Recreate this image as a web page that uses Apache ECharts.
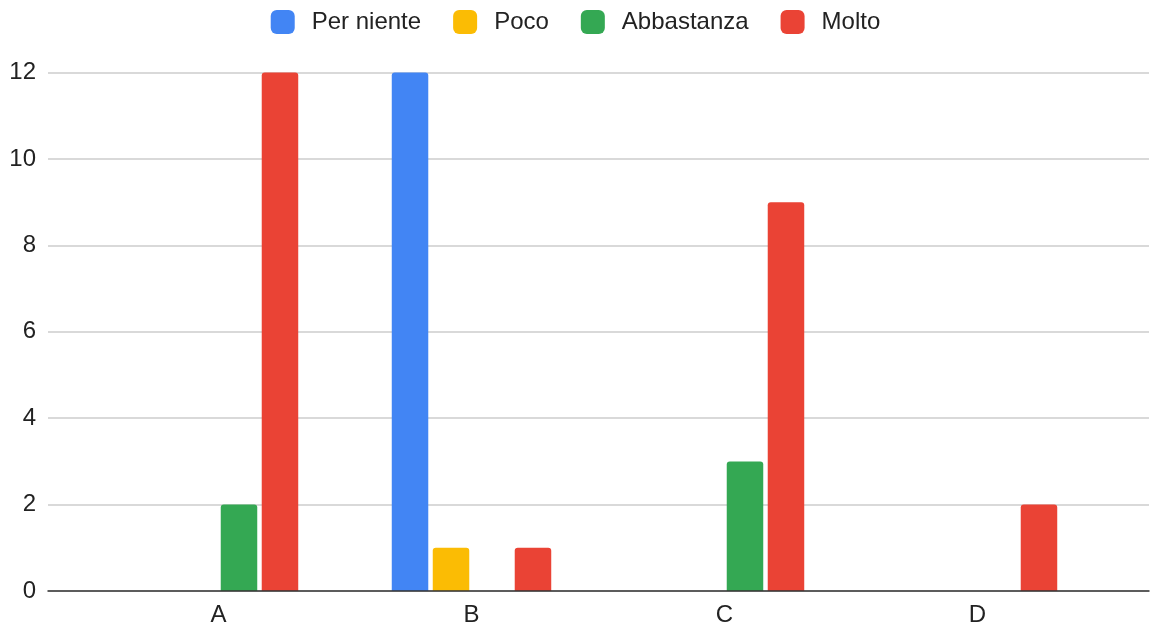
<!DOCTYPE html>
<html>
<head>
<meta charset="utf-8">
<script src="https://cdn.jsdelivr.net/npm/echarts@6/dist/echarts.min.js"></script>
<style>html,body{margin:0;padding:0;background:#fff}#c{width:1151px;height:629px}</style>
</head>
<body>
<div id="c"></div>
<script>
const categories = ['A', 'B', 'C', 'D'];
const seriesNames = ['Per niente', 'Poco', 'Abbastanza', 'Molto'];
const perNiente = [0, 12, 0, 0];
const poco = [0, 1, 0, 0];
const abbastanza = [2, 0, 3, 0];
const molto = [12, 1, 9, 2];
const yTicks = [0, 2, 4, 6, 8, 10, 12];
const colors = ['#4285F4', '#FBBC04', '#34A853', '#EA4335'];

const values = [perNiente, poco, abbastanza, molto];
const font = 'Arial, "Liberation Sans", sans-serif';
const chart = echarts.init(document.getElementById('c'), null, {renderer: 'canvas'});
const gridTop = 72.5, gridBottom = 38;
chart.setOption({
  animation: false,
  color: colors,
  legend: {
    top: 5, left: 'center',
    itemWidth: 24, itemHeight: 24, itemGap: 32,
    icon: 'roundRect',
    textStyle: {fontSize: 24, color: '#222', fontFamily: font, padding: [0, 0, 0, 12]},
    data: seriesNames
  },
  grid: [
    {left: 48, right: 2, top: gridTop, bottom: gridBottom},
    {left: 92, right: 47, top: gridTop, bottom: gridBottom}
  ],
  xAxis: [
    {gridIndex: 0, type: 'category', data: [''], axisTick: {show: false}, axisLabel: {show: false},
     axisLine: {lineStyle: {color: '#333', width: 1.5}}, z: 10},
    {gridIndex: 1, type: 'category', data: categories, axisTick: {show: false},
     axisLine: {show: false},
     axisLabel: {fontSize: 24, color: '#222', fontFamily: font, margin: 12}}
  ],
  yAxis: [
    {gridIndex: 0, type: 'value', min: yTicks[0], max: yTicks[yTicks.length - 1], interval: 2,
     axisLine: {show: false}, axisTick: {show: false},
     axisLabel: {fontSize: 24, color: '#222', fontFamily: font, margin: 12},
     splitLine: {lineStyle: {color: '#cccccc', width: 1.5}}},
    {gridIndex: 1, type: 'value', min: yTicks[0], max: yTicks[yTicks.length - 1], interval: 2,
     show: false, splitLine: {show: false}}
  ],
  series: seriesNames.map((name, i) => ({
    name: name,
    type: 'bar',
    xAxisIndex: 1, yAxisIndex: 1,
    data: values[i],
    barWidth: 36.5,
    barGap: '12.3%',
    itemStyle: {color: colors[i], borderRadius: [3, 3, 0, 0]}
  }))
});
</script>
</body>
</html>
